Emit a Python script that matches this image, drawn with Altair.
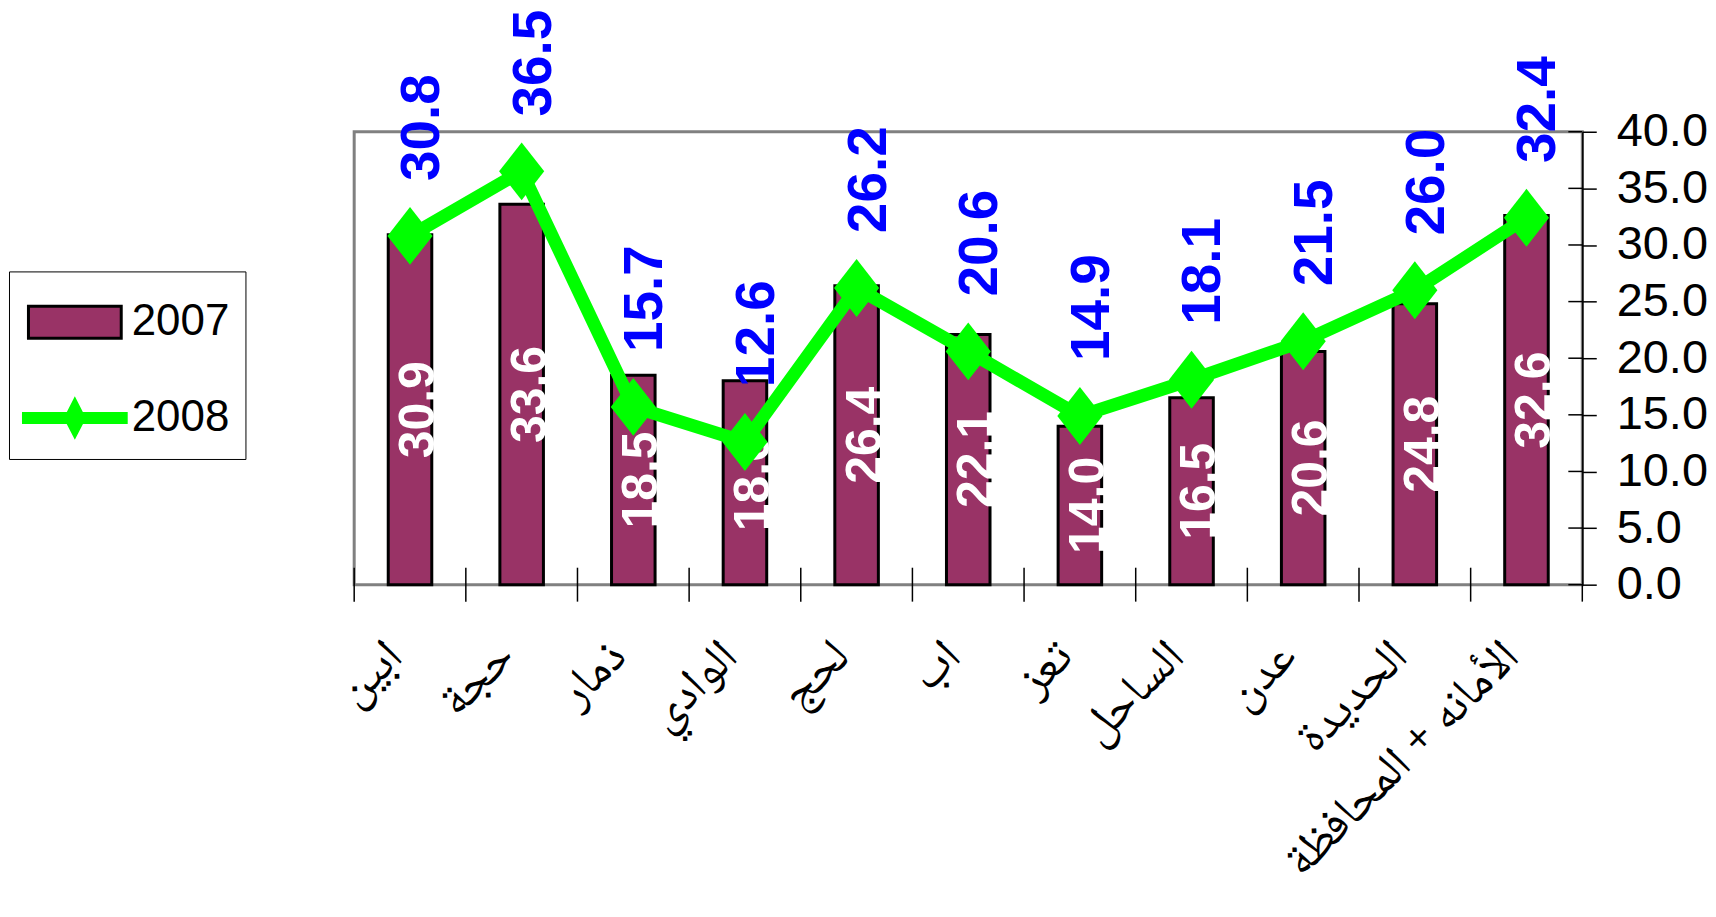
import altair as alt
import pandas as pd

categories = ["ابين", "حجة", "ذمار", "الوادي", "لحج", "اب", "تعز",
              "الساحل", "عدن", "الحديدة", "الأمانه + المحافظة"]
values_2007 = [30.9, 33.6, 18.5, 18.0, 26.4, 22.1, 14.0, 16.5, 20.6, 24.8, 32.6]
values_2008 = [30.8, 36.5, 15.7, 12.6, 26.2, 20.6, 14.9, 18.1, 21.5, 26.0, 32.4]
series_names = ["2007", "2008"]
y_ticks = [0, 5, 10, 15, 20, 25, 30, 35, 40]

W, H = 1231, 454
NARROW = "Liberation Sans Narrow, Arial Narrow, Liberation Sans, sans-serif"
SANS = "Liberation Sans, Arial, sans-serif"
ARABIC = "Noto Naskh Arabic, Noto Sans Arabic, Amiri, DejaVu Sans, sans-serif"

df07 = pd.DataFrame({"cat": categories, "series": "2007", "value": values_2007})
df08 = pd.DataFrame({"cat": categories, "series": "2008", "value": values_2008})
df_all = pd.concat([df07, df08], ignore_index=True)
df_cats = pd.DataFrame({"cat": categories})
df_ticks = pd.DataFrame({"t": y_ticks})

x_scale = alt.Scale(paddingInner=0, paddingOuter=0)
x_axis = alt.Axis(ticks=False, domain=False, labelAngle=315, labelAlign="right",
                  labelBaseline="middle", labelPadding=64, labelOffset=-15,
                  labelFont=ARABIC, labelFontSize=48, labelColor="black",
                  labelLimit=1000, labelOverlap=False)
y_scale = alt.Scale(domain=[0, 40], nice=False)
y_axis = alt.Axis(orient="right", values=y_ticks, format=".1f", tickSize=14,
                  tickColor="black", tickWidth=1.5, domainColor="black",
                  domainWidth=1.5, labelPadding=20, labelFont=NARROW,
                  labelFontSize=47, labelColor="black", grid=False)

def X(**kw):
    return alt.X("cat:N", sort=categories, scale=x_scale, axis=x_axis, title=None, **kw)

def Y(field):
    return alt.Y(field, scale=y_scale, axis=y_axis, title=None)

bars = alt.Chart(df07).mark_bar(
    color="#993366", stroke="black", strokeWidth=3,
    width=alt.RelativeBandSize(0.39)
).encode(x=X(), y=Y("value:Q"))

bar_labels = alt.Chart(df07).transform_calculate(
    half="datum.value / 2"
).mark_text(
    angle=270, align="center", baseline="middle", dy=9, color="white",
    font=SANS, fontSize=50, fontWeight="bold"
).encode(x=X(), y=Y("half:Q"), text=alt.Text("value:Q", format=".1f"))

line = alt.Chart(df08).mark_line(
    color="#00FF00", strokeWidth=13
).encode(x=X(), y=Y("value:Q"))

DIAMOND = "M0,-1L0.78,0L0,1L-0.78,0Z"
markers = alt.Chart(df08).mark_point(
    shape=DIAMOND, filled=True, size=3364, color="#00FF00", opacity=1
).encode(x=X(), y=Y("value:Q"))

line_labels = alt.Chart(df08).mark_text(
    angle=270, align="left", baseline="middle", dx=55, dy=12, color="#0000FF",
    font=NARROW, fontSize=55, fontWeight="bold"
).encode(x=X(), y=Y("value:Q"), text=alt.Text("value:Q", format=".1f"))

x_ticks = alt.Chart(df_cats).mark_rule(color="black", strokeWidth=1.5).encode(
    x=X(bandPosition=0), y=alt.value(H - 17), y2=alt.value(H + 17))

y_axis_ext = alt.Chart(df_cats.head(1)).mark_rule(color="black", strokeWidth=1.5).encode(
    x=alt.value(W), y=alt.value(H), y2=alt.value(H + 17))

y_ticks_inner = alt.Chart(df_ticks).mark_rule(color="black", strokeWidth=1.5).encode(
    y=Y("t:Q"), x=alt.value(W - 14), x2=alt.value(W))

RECT = "M-1.388,-0.478L1.388,-0.478L1.388,0.478L-1.388,0.478Z"
LINE_DIAMOND = ("M-1.537,-0.134L-0.215,-0.134L0,-0.552L0.215,-0.134L1.537,-0.134"
                "L1.537,0.134L0.215,0.134L0,0.552L-0.215,0.134L-1.537,0.134Z")
legend = alt.Legend(orient="none", legendX=-346, legendY=140, padding=16,
                    rowPadding=38, labelFont=NARROW, labelFontSize=44,
                    labelColor="black", labelOffset=22, symbolOffset=15,
                    symbolSize=4489, symbolStrokeWidth=3, strokeColor="black",
                    fillColor="white", symbolType=RECT)
legend_layer = alt.Chart(df_all).transform_filter("false").mark_point(
    filled=True, opacity=1, strokeWidth=3
).encode(
    fill=alt.Fill("series:N", title=None, legend=legend,
                  scale=alt.Scale(domain=series_names, range=["#993366", "#00FF00"])),
    stroke=alt.Stroke("series:N", title=None, legend=legend,
                      scale=alt.Scale(domain=series_names, range=["#000000", "#00FF00"])),
    shape=alt.Shape("series:N", title=None, legend=legend,
                    scale=alt.Scale(domain=series_names, range=[RECT, LINE_DIAMOND])),
)

chart = alt.layer(
    bars, bar_labels, line, markers, line_labels, x_ticks, y_axis_ext,
    y_ticks_inner, legend_layer
).properties(
    width=W, height=H,
    padding={"left": 0, "top": 0, "right": 0, "bottom": 0},
    background="white"
).configure_view(fill="#C0C0C0", stroke="#808080", strokeWidth=3)

chart.save("out.html", embed_options={"renderer": "svg", "actions": False})
